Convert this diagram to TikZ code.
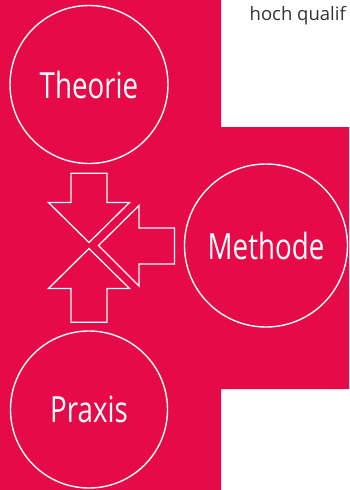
\documentclass[tikz,border=0pt]{standalone}
\usepackage{fontspec}
\setmainfont{Open Sans}
\newfontfamily\condfont[FakeStretch=0.77]{Open Sans}
\definecolor{brandred}{RGB}{230,10,72}
\definecolor{txtgray}{RGB}{51,51,51}
\tikzset{
  circ/.style={circle, draw=white, line width=1.4pt, text=white,
    font=\condfont\fontsize{36}{40}\selectfont, inner sep=0pt},
  arrowshape/.style={draw=white, line width=1.3pt, line join=miter},
  note/.style={text=txtgray, font=\fontsize{18.5}{22}\selectfont, inner sep=0pt}
}
\begin{document}
\begin{tikzpicture}[x=1pt,y=-1pt]
\useasboundingbox (0,0) rectangle (349,490);
\fill[white] (0,0) rectangle (349,490);
\fill[brandred] (0,0) -- (221,0) -- (221,127) -- (349,127) -- (349,389)
  -- (221,389) -- (221,490) -- (0,490) -- cycle;
\node[note, anchor=base west] (hoch) at (249.5,20) {hoch qualif};
\node[circ, minimum size=158] (theorie) at (89,84.5) {Theorie};
\node[circ, minimum size=163] (methode) at (266,245.5) {Methode};
\node[circ, minimum size=157] (praxis) at (89,409.5) {Praxis};
% down arrow
\draw[arrowshape] (71,173.3) -- (107,173.3) -- (107,202.5) -- (129.5,202.5)
  -- (89,242.5) -- (48.5,202.5) -- (71,202.5) -- cycle;
% up arrow
\draw[arrowshape] (71,322.3) -- (107,322.3) -- (107,288.5) -- (129.5,288.5)
  -- (89,248.5) -- (48.5,288.5) -- (71,288.5) -- cycle;
% left arrow
\draw[arrowshape] (174.5,228) -- (174.5,264) -- (139,264) -- (139,286)
  -- (98.5,245.5) -- (139,205.5) -- (139,228) -- cycle;
\end{tikzpicture}
\end{document}
